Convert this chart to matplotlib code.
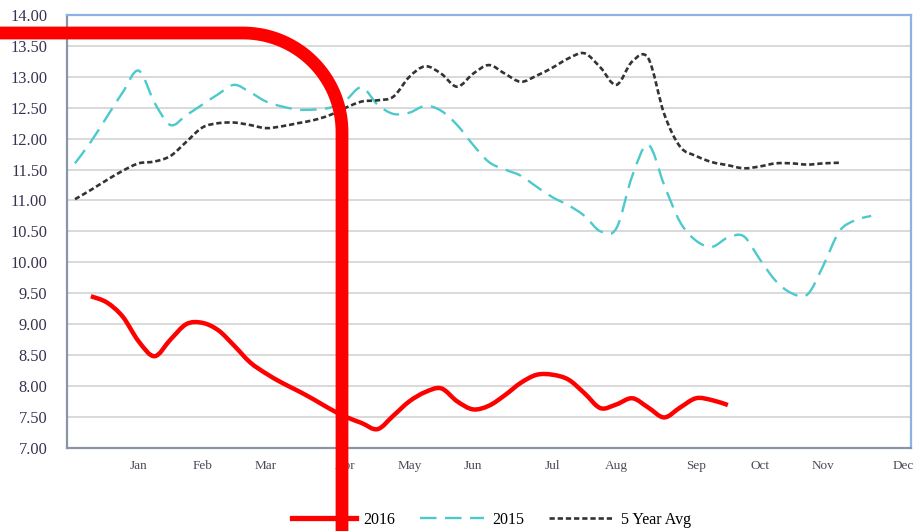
import numpy as np
import matplotlib
matplotlib.use("Agg")
import matplotlib.pyplot as plt
from matplotlib.path import Path
from matplotlib.patches import PathPatch
from matplotlib.lines import Line2D

# Weekly prices; index 0..52 is the week of the year
weeks_2015 = list(range(0, 51))
values_2015 = [11.60, 11.95, 12.35, 12.75, 13.10, 12.58, 12.22, 12.38, 12.55, 12.72,
               12.87, 12.75, 12.60, 12.52, 12.47, 12.47, 12.50, 12.62, 12.83, 12.55,
               12.40, 12.42, 12.53, 12.45, 12.22, 11.90, 11.62, 11.50, 11.40, 11.22,
               11.05, 10.92, 10.75, 10.50, 10.55, 11.40, 11.90, 11.25, 10.65, 10.35,
               10.25, 10.40, 10.42, 10.05, 9.70, 9.50, 9.48, 9.95, 10.50, 10.68,
               10.75]

weeks_avg = list(range(0, 49))
values_avg = [11.02, 11.17, 11.33, 11.48, 11.60, 11.63, 11.72, 11.95, 12.18, 12.25,
              12.26, 12.22, 12.17, 12.20, 12.25, 12.30, 12.38, 12.50, 12.60, 12.62,
              12.68, 13.00, 13.17, 13.05, 12.84, 13.05, 13.19, 13.05, 12.92, 13.02,
              13.15, 13.30, 13.38, 13.15, 12.87, 13.25, 13.30, 12.40, 11.87, 11.72,
              11.62, 11.57, 11.52, 11.55, 11.60, 11.60, 11.58, 11.60, 11.61]

weeks_2016 = list(range(1, 42))
values_2016 = [9.45, 9.35, 9.12, 8.72, 8.48, 8.75, 9.00, 9.02, 8.90, 8.65,
               8.38, 8.20, 8.05, 7.92, 7.78, 7.63, 7.50, 7.40, 7.30, 7.52,
               7.75, 7.90, 7.96, 7.75, 7.62, 7.68, 7.85, 8.05, 8.18, 8.18,
               8.10, 7.88, 7.64, 7.70, 7.80, 7.65, 7.49, 7.65, 7.80, 7.77,
               7.69]

month_labels = ["Jan", "Feb", "Mar", "Apr", "May", "Jun",
                "Jul", "Aug", "Sep", "Oct", "Nov", "Dec"]
month_weeks = [4, 8, 12, 17, 21, 25, 30, 34, 39, 43, 47, 52]
n_weeks = 53

serif = ["Liberation Serif", "DejaVu Serif"]


def smooth_path(xs, ys):
    """Cubic Bezier path through every point (Catmull-Rom style tangents)."""
    p = np.column_stack([xs, ys]).astype(float)
    n = len(p)
    verts = [p[0]]
    codes = [Path.MOVETO]
    for i in range(n - 1):
        p_prev = p[i - 1] if i > 0 else p[i]
        p_next2 = p[i + 2] if i + 2 < n else p[i + 1]
        c1 = p[i] + (p[i + 1] - p_prev) / 6.0
        c2 = p[i + 1] - (p_next2 - p[i]) / 6.0
        verts += [c1, c2, p[i + 1]]
        codes += [Path.CURVE4] * 3
    return Path(np.array(verts), codes)


fig = plt.figure(figsize=(9.2, 5.31), dpi=100)
ax = fig.add_axes([67 / 920, 1 - 447.7 / 531, (911 - 67) / 920, (447.7 - 15) / 531])

ax.set_xlim(-0.5, n_weeks - 0.5)
ax.set_ylim(7.0, 14.0)
ax.set_yticks(np.arange(7.0, 14.01, 0.5))
ax.set_yticklabels([f"{v:.2f}" for v in np.arange(7.0, 14.01, 0.5)])
ax.set_xticks(month_weeks)
ax.set_xticklabels(month_labels)
ax.grid(axis="y", color="#d9d9d9", linewidth=1.4)
ax.set_axisbelow(True)
ax.tick_params(axis="both", length=0)
ax.tick_params(axis="y", pad=14, labelsize=11.8, labelcolor="#3a3050")
ax.tick_params(axis="x", pad=9, labelsize=9.5, labelcolor="#4a4a5a")
for lab in ax.get_xticklabels() + ax.get_yticklabels():
    lab.set_family(serif)

for side in ("top", "right"):
    ax.spines[side].set_color("#8db3e2")
    ax.spines[side].set_linewidth(1.6)
for side in ("left", "bottom"):
    ax.spines[side].set_color("#8a94a6")
    ax.spines[side].set_linewidth(1.6)

cyan = "#4cc9cc"
avg_color = "#333333"
red = "#ff0000"

styles = {
    "2015": dict(color=cyan, lw=1.7, ls=(0, (7.0, 3.6))),
    "avg": dict(color=avg_color, lw=1.9, ls=(0, (2.0, 1.1))),
    "2016": dict(color=red, lw=3.2, ls="-"),
}

for key, xs, ys, z in [("2015", weeks_2015, values_2015, 3),
                       ("avg", weeks_avg, values_avg, 4),
                       ("2016", weeks_2016, values_2016, 5)]:
    st = styles[key]
    patch = PathPatch(smooth_path(xs, ys), fill=False, edgecolor=st["color"],
                      linewidth=st["lw"], linestyle=st["ls"], zorder=z,
                      capstyle="butt", joinstyle="round")
    ax.add_patch(patch)

handles = [Line2D([], [], color=styles["2016"]["color"], lw=styles["2016"]["lw"] + 0.6,
                  ls=styles["2016"]["ls"]),
           Line2D([], [], color=styles["2015"]["color"], lw=styles["2015"]["lw"],
                  ls=styles["2015"]["ls"]),
           Line2D([], [], color=styles["avg"]["color"], lw=styles["avg"]["lw"],
                  ls=styles["avg"]["ls"])]
fig.legend(handles, ["2016", "2015", "5 Year Avg"], loc="center",
           bbox_to_anchor=(0.534, 1 - 520 / 531), ncol=3, frameon=False,
           handlelength=4.0, columnspacing=1.55, handletextpad=0.5,
           prop={"family": serif, "size": 11.5})

# Rounded red marker line drawn over the whole figure (pixel layout)
W, H = 920, 531
y_top, x_corner, radius, x_vert = 33.0, 243.0, 99.0, 342.0
theta = np.linspace(np.pi / 2, 0, 40)
arc_x = x_corner + radius * np.cos(theta)
arc_y = (y_top + radius) - radius * np.sin(theta)
px = np.concatenate([[-10], arc_x, [x_vert]])
py = np.concatenate([[y_top], arc_y, [H + 10]])
fig.add_artist(Line2D(px / W, 1 - py / H, transform=fig.transFigure,
                      color=red, lw=9.2, solid_capstyle="butt",
                      solid_joinstyle="round", zorder=20))

fig.savefig("out.png", dpi=100)
